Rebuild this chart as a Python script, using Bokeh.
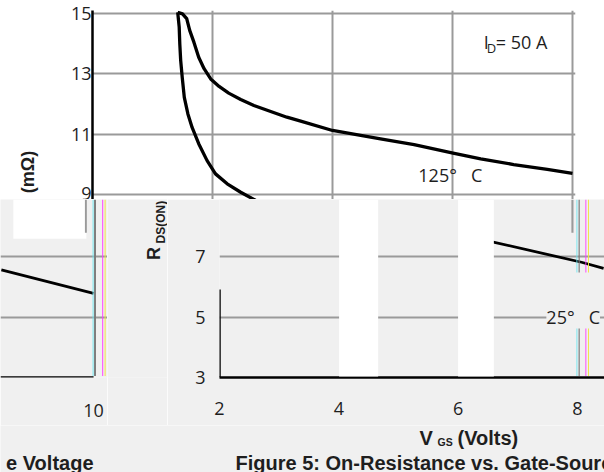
import math
from bokeh.plotting import figure
from bokeh.models import Range1d, FixedTicker, Label, BoxAnnotation
from bokeh.layouts import column, row
from bokeh.embed import file_html
from bokeh.resources import INLINE

# ---------------- data ----------------
# 125 deg C curve  (V_GS in volts, R_DS(on) in mOhm)
vgs_125 = [3.42, 3.50, 3.57, 3.62, 3.69, 3.77, 3.86, 3.97, 4.11, 4.27, 4.47, 4.69,
           4.97, 5.24, 5.47, 6.00, 6.80, 7.36, 8.01, 8.47, 9.02, 9.58, 10.0]
rds_125 = [15.04, 14.99, 14.83, 14.44, 14.05, 13.55, 13.17, 12.83, 12.58, 12.36, 12.15, 11.95,
           11.75, 11.56, 11.43, 11.12, 10.84, 10.65, 10.37, 10.18, 9.99, 9.83, 9.70]
# 25 deg C curve, upper visible part
vgs_25 = [3.42, 3.445, 3.455, 3.47, 3.495, 3.53, 3.59, 3.66, 3.77, 3.91, 4.05, 4.245, 4.47, 4.72, 4.90]
rds_25 = [15.04, 14.55, 13.99, 13.44, 12.89, 12.22, 11.67, 11.22, 10.68, 10.12, 9.68, 9.35, 9.07, 8.80, 8.60]
# 25 deg C curve, lower visible part
vgs_25_tail = [6.48, 8.07, 8.44]
rds_25_tail = [7.54, 6.82, 6.62]
# fragment of the previous figure (left edge)
prev_x = [8.08, 10.0]
prev_y = [6.57, 5.79]

x_ticks = [2, 4, 6, 8, 10]
y_ticks_top = [9, 11, 13, 15]
y_ticks_low = [3, 5, 7]
prev_x_ticks = [10]
prev_y_grid = [5, 7]

GRID = "#9a9a9a"
BG = "#f0f0f0"
TXT = "#1e1e1e"
TICK_FONT = "Open Sans"
BOLD_FONT = "Liberation Sans"
NB = "\u00a0"


def tlabel(fig, x, y, text, size="18px", bold=False, align="left", bg=None, angle=0.0):
    lab = Label(x=x, y=y, text=text, text_font_size=size, angle=angle,
                text_font=BOLD_FONT if bold else TICK_FONT,
                text_font_style="bold" if bold else "normal",
                text_color=TXT, text_align=align, text_baseline="middle")
    if bg is not None:
        lab.background_fill_color = bg
    fig.add_layout(lab)


def style_axis(ax, ticks, standoff):
    ax.ticker = FixedTicker(ticks=ticks)
    ax.major_tick_line_color = None
    ax.minor_tick_line_color = None
    ax.major_tick_out = 0
    ax.major_tick_in = 0
    ax.major_label_standoff = standoff
    ax.major_label_text_font = TICK_FONT
    ax.major_label_text_font_size = "18px"
    ax.major_label_text_color = TXT


def text_panel(width, height, x0, y_top, y_bottom, border_top, border_bottom, bg):
    """A bare figure used only to hold free text (pixel-like coordinates)."""
    f = figure(width=width, height=height, x_range=Range1d(x0, x0 + width),
               y_range=Range1d(y_bottom, y_top),
               output_backend="svg", toolbar_location=None,
               min_border_left=0, min_border_right=0,
               min_border_top=border_top, min_border_bottom=border_bottom)
    f.axis.visible = False
    f.grid.visible = False
    f.outline_line_color = None
    f.background_fill_color = bg
    f.border_fill_color = bg
    return f


# ---------------- top part ----------------
ttext = text_panel(50, 199, 0, 10, 199, 10, 0, "white")
tlabel(ttext, 27.5, 171.5, "(mΩ)", bold=True, align="center", angle=math.pi / 2)

top = figure(width=554, height=199, x_range=Range1d(2, 10.05), y_range=Range1d(8.83, 15.1),
             output_backend="svg", toolbar_location=None,
             min_border_left=42, min_border_right=29, min_border_top=10, min_border_bottom=0)
top.xaxis.visible = False
top.outline_line_color = None
top.background_fill_color = "white"
top.border_fill_color = "white"
top.xgrid.ticker = FixedTicker(ticks=x_ticks)
top.ygrid.ticker = FixedTicker(ticks=y_ticks_top)
for g in (top.xgrid, top.ygrid):
    g.grid_line_color = GRID
    g.grid_line_width = 2
ya = top.yaxis[0]
style_axis(ya, y_ticks_top, 1)
ya.axis_line_color = "black"
ya.axis_line_width = 2.5

top.line(vgs_125, rds_125, line_color="black", line_width=3.3, line_join="round")
top.line(vgs_25, rds_25, line_color="black", line_width=3.3, line_join="round")

tlabel(top, 8.52, 14.04, "I")
tlabel(top, 8.57, 13.86, "D", size="13px")
tlabel(top, 8.72, 14.04, "= 50" + NB + "A")
tlabel(top, 7.43, 9.63, "125°" + NB + NB + NB + "C")

# ---------------- lower left fragment ----------------
left = figure(width=107, height=226, x_range=Range1d(8.0625, 10.29), y_range=Range1d(3, 8.9),
              output_backend="svg", toolbar_location=None,
              min_border_left=0, min_border_right=0, min_border_top=0, min_border_bottom=48)
left.yaxis.visible = False
left.outline_line_color = None
left.background_fill_color = BG
left.border_fill_color = BG
left.xgrid.visible = False
left.ygrid.ticker = FixedTicker(ticks=prev_y_grid)
left.ygrid.grid_line_color = GRID
left.ygrid.grid_line_width = 2
xa = left.xaxis[0]
style_axis(xa, prev_x_ticks, 26)
xa.axis_line_color = None
left.add_layout(BoxAnnotation(left=8.33, right=9.85, bottom=7.6, top=8.9,
                              fill_color="white", fill_alpha=1, line_color=None))
left.line(prev_x, prev_y, line_color="black", line_width=2.8)
left.line([left.x_range.start, prev_x_ticks[0]], [y_ticks_low[0], y_ticks_low[0]],
          line_color="black", line_width=2.5)
for lo, hi, col in [(9.98, 10.0, "#6fe6f0"), (10.01, 10.05, "#7a7a7a"),
                    (10.18, 10.2, "#ff3cff"), (10.23, 10.25, "#efe33a")]:
    left.add_layout(BoxAnnotation(left=lo, right=hi, bottom=3.05, top=8.9,
                                  fill_color=col, fill_alpha=1, line_color=None))
left.add_layout(BoxAnnotation(left=9.82, right=9.86, bottom=7.8, top=8.9,
                              fill_color=GRID, fill_alpha=1, line_color=None))

# ---------------- y-axis title of the lower half ----------------
rtext = text_panel(60, 226, 107, 199, 377, 0, 48, BG)
tlabel(rtext, 153.5, 253, "R", bold=True, align="center", angle=math.pi / 2)
tlabel(rtext, 160.5, 243, "DS(ON)", size="12px", bold=True, align="left", angle=math.pi / 2)

# ---------------- lower right (main chart, lower half) ----------------
low = figure(width=437, height=226, x_range=Range1d(2, 8.455), y_range=Range1d(3, 8.9),
             output_backend="svg", toolbar_location=None,
             min_border_left=52, min_border_right=0, min_border_top=0, min_border_bottom=48)
low.outline_line_color = None
low.background_fill_color = BG
low.border_fill_color = BG
low.xgrid.visible = False
low.ygrid.ticker = FixedTicker(ticks=[5, 7])
low.ygrid.grid_line_color = GRID
low.ygrid.grid_line_width = 2
xa = low.xaxis[0]
style_axis(xa, x_ticks, 24)
xa.axis_line_color = "black"
xa.axis_line_width = 2.5
ya = low.yaxis[0]
style_axis(ya, y_ticks_low, 14)
ya.axis_line_color = None
for lo, hi in [(4.005, 4.66), (6.0, 6.6)]:
    low.add_layout(BoxAnnotation(left=lo, right=hi, bottom=3.03, top=8.9,
                                 fill_color="white", fill_alpha=1, line_color=None))
low.line([x_ticks[0], x_ticks[0]], [y_ticks_low[0], 5.92], line_color="black", line_width=2.5)
low.line(vgs_25_tail, rds_25_tail, line_color="black", line_width=2.8)
for lo, hi, col in [(7.985, 8.0, "#6fe6f0"), (8.02, 8.04, "#7a7a7a"),
                    (8.135, 8.15, "#ff3cff"), (8.18, 8.195, "#efe33a")]:
    for b, t in [(6.48, 8.9), (3.05, 4.66)]:
        low.add_layout(BoxAnnotation(left=lo, right=hi, bottom=b, top=t,
                                     fill_color=col, fill_alpha=1, line_color=None))
low.add_layout(BoxAnnotation(left=7.9, right=7.935, bottom=7.8, top=8.9,
                             fill_color=GRID, fill_alpha=1, line_color=None))
tlabel(low, 7.48, 5.02, "25°" + NB + NB + NB + "C", bg=BG)

# ---------------- caption strip (pixel-like coordinates) ----------------
strip = text_panel(604, 47, 0, 0, 47, 0, 0, BG)
tlabel(strip, 93, 37, "e Voltage", size="20px", bold=True, align="right")
tlabel(strip, 419, 12, "V", size="20px", bold=True)
tlabel(strip, 437, 16.5, "GS", size="10.5px", bold=True)
tlabel(strip, 457, 12, "(Volts)", size="20px", bold=True)
tlabel(strip, 235, 37, "Figure 5: On-Resistance vs. Gate-Source Voltage", size="20px", bold=True)

layout = column(row(ttext, top), row(left, rtext, low), row(strip))
open("out.html", "w").write(file_html(layout, INLINE))
